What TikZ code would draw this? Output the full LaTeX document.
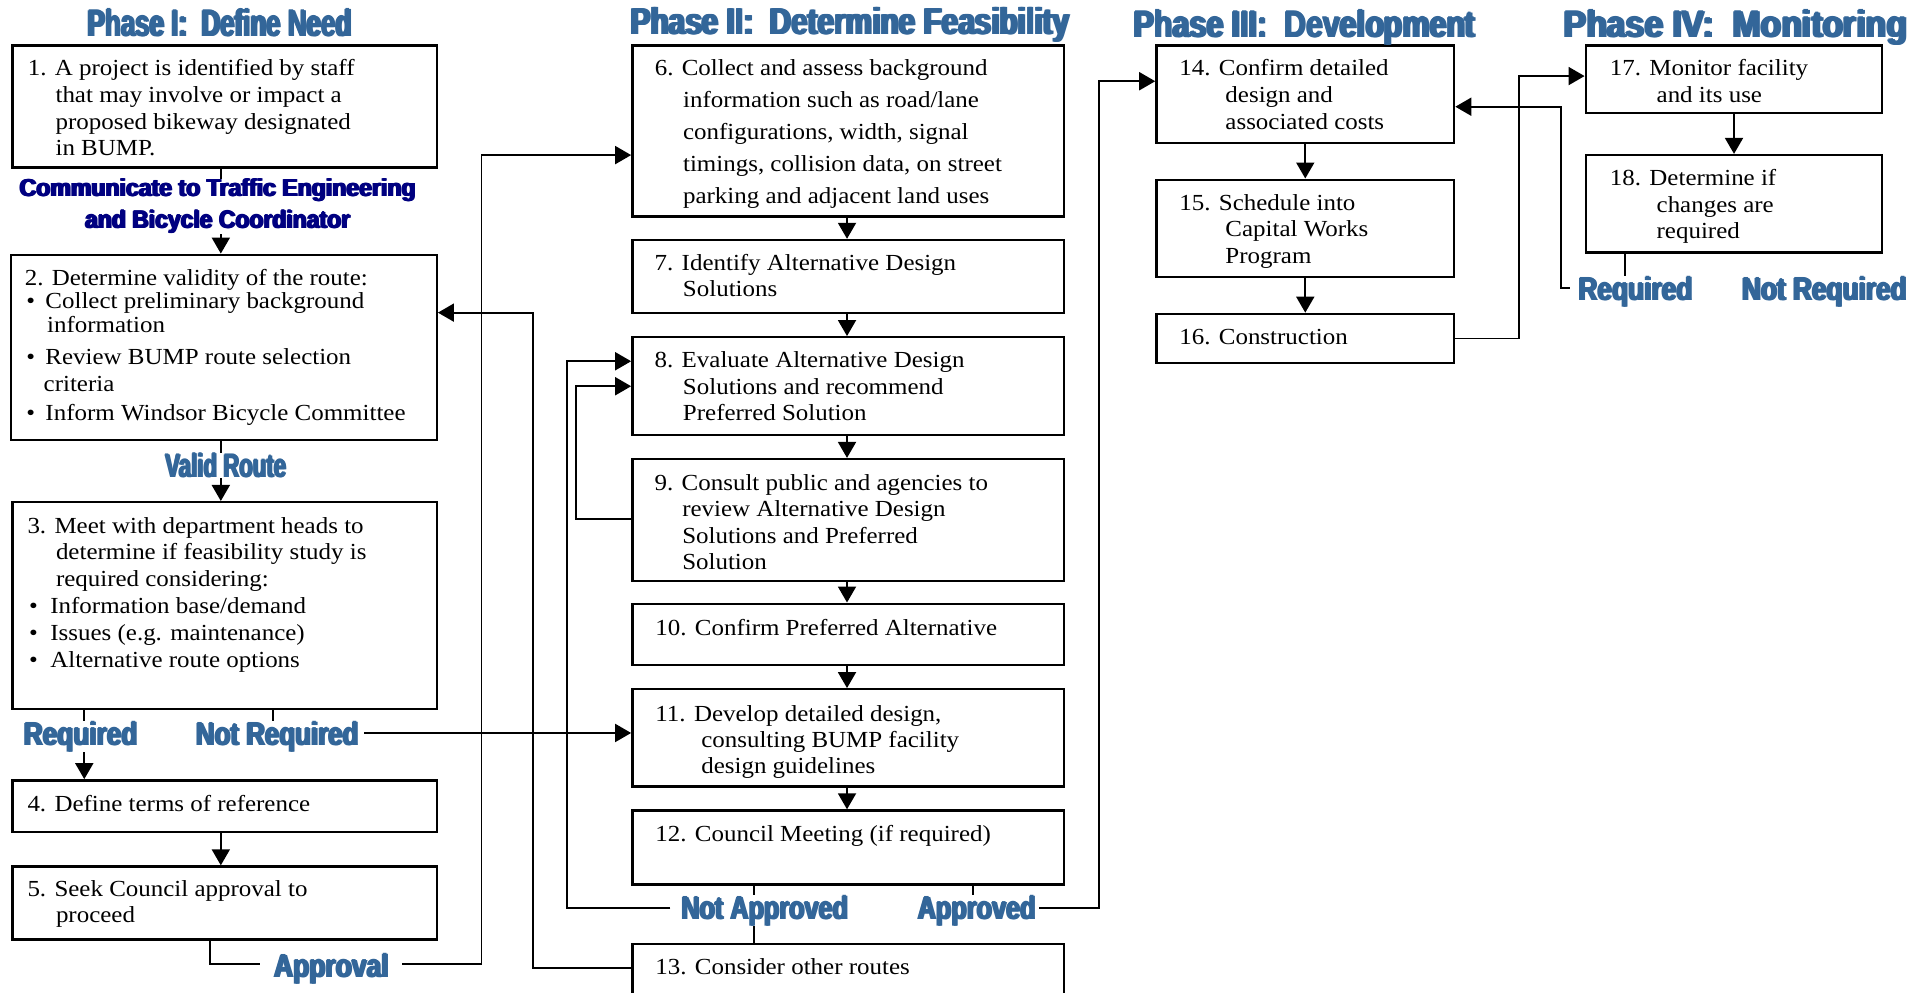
\documentclass[tikz,border=0pt]{standalone}
\usepackage{fontspec}
\usepackage{graphicx}
\setmainfont{Liberation Serif}[FakeStretch=1.085]
\newfontfamily\impact{Liberation Sans Bold}
\usetikzlibrary{arrows.meta,fit}
\definecolor{phase}{HTML}{336699}
\definecolor{navy}{HTML}{000080}
\newcommand{\hv}[1]{\rlap{#1}\kern.03em\rlap{\raisebox{.025em}{#1}}\kern.03em\rlap{#1}\kern.03em #1}
\newcommand{\imp}[3]{\resizebox{#1pt}{#2pt}{\impact\hv{#3}}}
\newcommand{\ind}[1]{\hspace*{#1pt}}
\newcommand{\bul}[2]{\rlap{\hspace*{#1pt}\textbullet}\hspace*{#2pt}}
\newcommand{\st}{\rule{0pt}{17pt}}
\tikzset{
  box/.style={draw, line width=2.4pt, inner sep=0pt},
  ln/.style={line width=1.9pt},
  arr/.style={line width=1.9pt, -{Triangle[length=16pt,width=18pt]}},
  txt/.style={anchor=north west, yshift=17pt, inner sep=0pt, align=left,
              font=\fontsize{23pt}{#1pt}\selectfont},
  lbl/.style={anchor=base west, inner sep=0pt, fill=white, text=phase},
  ttl/.style={anchor=base west, inner sep=0pt, text=phase},
}
\begin{document}
\begin{tikzpicture}[x=1.2302pt, y=-1.2308pt]
\useasboundingbox (0,0) rectangle (1568,806);
\fill[white] (0,0) rectangle (1568,806);

% ---------- boxes ----------
\node[box, fit={(10,37) (355,136)}] (b1) {};
\node[box, fit={(9,207) (355,357.5)}] (b2) {};
\node[box, fit={(10,408) (355,576)}] (b3) {};
\node[box, fit={(10,634) (355,676)}] (b4) {};
\node[box, fit={(10,704) (355,763.4)}] (b5) {};
\node[box, fit={(514,37) (865,176)}] (b6) {};
\node[box, fit={(514,195) (865,254.5)}] (b7) {};
\node[box, fit={(514,274) (865,353.5)}] (b8) {};
\node[box, fit={(514,373) (865,472)}] (b9) {};
\node[box, fit={(514,490.5) (865,540.5)}] (b10) {};
\node[box, fit={(514,560) (865,639)}] (b11) {};
\node[box, fit={(514,658.5) (865,718.5)}] (b12) {};
\node[box, fit={(514,767) (865,830)}] (b13) {};
\node[box, fit={(940,37) (1182,116)}] (b14) {};
\node[box, fit={(940,146) (1182,225)}] (b15) {};
\node[box, fit={(940,255) (1182,295)}] (b16) {};
\node[box, fit={(1289,37) (1530,92)}] (b17) {};
\node[box, fit={(1289,126) (1530,205)}] (b18) {};

% ---------- connectors ----------
\coordinate (xa) at (179.5,0);
\draw[arr] (b1.south -| xa) -- (b2.north -| xa);
\draw[arr] (b2.south -| xa) -- (b3.north -| xa);
\draw[arr] (b4.south -| xa) -- (b5.north -| xa);
\coordinate (xr) at (68.5,0);
\draw[arr] (b3.south -| xr) -- (b4.north -| xr);
\coordinate (nrt) at (221.7,597);
\draw[ln] (b3.south -| nrt) -- (nrt);
\coordinate (nrR) at (296.1,595.5);
\draw[arr] (nrR) -- (b11.west |- nrR);

\coordinate (x5) at (171,0);
\coordinate (apL) at (211.4,783.5);
\coordinate (apR) at (327,783.5);
\coordinate (ap6) at (391.4,126);
\draw[ln] (b5.south -| x5) |- (apL);
\draw[arr] (apR) -| (ap6) -- (b6.west |- ap6);

\coordinate (r13) at (0,786.6);
\coordinate (r2) at (433.4,254);
\draw[arr] (b13.west |- r13) -| (r2) -- (b2.east |- r2);

\coordinate (r9) at (0,422);
\coordinate (r8a) at (468,313.8);
\draw[arr] (b9.west |- r9) -| (r8a) -- (b8.west |- r8a);

\coordinate (x613) at (613.2,0);
\draw[ln] (b12.south -| x613) -- (b13.north -| x613);
\coordinate (naL) at (545,737.5);
\coordinate (r8b) at (460.6,293.5);
\draw[arr] (naL) -| (r8b) -- (b8.west |- r8b);

\coordinate (apt) at (791.2,740);
\draw[ln] (b12.south -| apt) -- (apt);
\coordinate (apdR) at (844.6,737.5);
\coordinate (r14) at (893.4,66);
\draw[arr] (apdR) -| (r14) -- (b14.west |- r14);

\coordinate (xb) at (688.5,0);
\draw[arr] (b6.south -| xb) -- (b7.north -| xb);
\draw[arr] (b7.south -| xb) -- (b8.north -| xb);
\draw[arr] (b8.south -| xb) -- (b9.north -| xb);
\draw[arr] (b9.south -| xb) -- (b10.north -| xb);
\draw[arr] (b10.south -| xb) -- (b11.north -| xb);
\draw[arr] (b11.south -| xb) -- (b12.north -| xb);

\draw[arr] (b14.south) -- (b15.north);
\draw[arr] (b15.south) -- (b16.north);
\coordinate (r17) at (1235,61.8);
\draw[arr] (b16.east) -| (r17) -- (b17.west |- r17);
\draw[arr] (b17.south) -- (b18.north);
\coordinate (rqt) at (1320.6,235);
\draw[ln] (b18.south -| rqt) -- (rqt);
\coordinate (rqL) at (1276,234);
\coordinate (r14b) at (1268.6,86.7);
\draw[arr] (rqL) -| (r14b) -- (b14.east |- r14b);

% ---------- labels ----------
\node[anchor=north, inner sep=0pt, fill=white, align=center, text=navy,
      font=\fontsize{20pt}{31.6pt}\selectfont] (lcom) at (177,144.9)
  {\imp{398}{18.4}{Communicate to Traffic Engineering}\\\imp{267}{18.4}{and Bicycle Coordinator}};
\node[lbl] (lvr) at (133.4,388) {\imp{123}{24.6}{Valid Route}};
\node[lbl] (lrq1) at (18.3,605.6) {\imp{116}{24}{Required}};
\node[lbl] (lnr1) at (158.2,605.6) {\imp{165}{24}{Not Required}};
\node[lbl] (lapv) at (221.7,793.9) {\imp{117}{24}{Approval}};
\node[lbl] (lnap) at (552.8,747) {\imp{169}{24}{Not Approved}};
\node[lbl] (lapd) at (745,747) {\imp{120}{24}{Approved}};
\node[lbl] (lrq4) at (1282,244) {\imp{116.4}{24}{Required}};
\node[lbl] (lnr4) at (1415,244) {\imp{167}{24}{Not Required}};

% ---------- titles ----------
\node[ttl] (h1) at (70.5,30) {\imp{266}{28}{Phase I:\ \ Define Need}};
\node[ttl] (h2) at (511.8,28.4) {\imp{441}{28}{Phase II:\ \ Determine Feasibility}};
\node[ttl] (h3) at (920.6,30.5) {\imp{344}{28}{Phase III:\ \ Development}};
\node[ttl] (h4) at (1270,30.5) {\imp{346}{28}{Phase IV:\ \ Monitoring}};

% ---------- box texts ----------
\node[txt=26.7] (t1) at (22.5,61.4) {\st 1. A project is identified by staff\\\ind{27.7}that may involve or impact a\\\ind{27.7}proposed bikeway designated\\\ind{27.7}in BUMP.};
\node[txt=23.4] (t2) at (20,231.7) {\st 2. Determine validity of the route:\\
  \bul{1.6}{20.7}Collect preliminary background\\
  \ind{22.4}information\\[9pt]
  \bul{1.6}{20.7}Review BUMP route selection\\[3.7pt]
  \ind{18.9}criteria\\[5.6pt]
  \bul{1.6}{20.7}Inform Windsor Bicycle Committee};
\node[txt=26.8] (t3) at (22.2,432.9) {\st 3. Meet with department heads to\\\ind{28.5}determine if feasibility study is\\\ind{28.5}required considering:\\
  \bul{1.5}{22.9}Information base/demand\\
  \bul{1.5}{22.9}Issues (e.g. maintenance)\\
  \bul{1.5}{22.9}Alternative route options};
\node[txt=26] (t4) at (22.2,659.3) {\st 4. Define terms of reference};
\node[txt=26.4] (t5) at (22.2,728) {\st 5. Seek Council approval to\\\ind{28.5}proceed};
\node[txt=32.05] (t6) at (532.1,61.4) {\st 6. Collect and assess background\\\ind{28.3}information such as road/lane\\\ind{28.3}configurations, width, signal\\\ind{28.3}timings, collision data, on street\\\ind{28.3}parking and adjacent land uses};
\node[txt=26] (t7) at (532,219.5) {\st 7. Identify Alternative Design\\\ind{28.3}Solutions};
\node[txt=26.2] (t8) at (532,298.8) {\st 8. Evaluate Alternative Design\\\ind{28.3}Solutions and recommend\\\ind{28.3}Preferred Solution};
\node[txt=26.5] (t9) at (532,398.1) {\st 9. Consult public and agencies to\\\ind{27.6}review Alternative Design\\\ind{27.6}Solutions and Preferred\\\ind{27.6}Solution};
\node[txt=26] (t10) at (532.6,516) {\st 10. Confirm Preferred Alternative};
\node[txt=26.1] (t11) at (532.6,585.7) {\st 11. Develop detailed design,\\\ind{45.9}consulting BUMP facility\\\ind{45.9}design guidelines};
\node[txt=26] (t12) at (532.6,683.6) {\st 12. Council Meeting (if required)};
\node[txt=26] (t13) at (532.6,791.5) {\st 13. Consider other routes};
\node[txt=27] (t14) at (958.5,61.4) {\st 14. Confirm detailed\\\ind{46.1}design and\\\ind{46.1}associated costs};
\node[txt=26.2] (t15) at (958.5,171.1) {\st 15. Schedule into\\\ind{46.1}Capital Works\\\ind{46.1}Program};
\node[txt=26] (t16) at (958.5,280) {\st 16. Construction};
\node[txt=26.6] (t17) at (1308.5,61.4) {\st 17. Monitor facility\\\ind{46.7}and its use};
\node[txt=26.7] (t18) at (1308.5,150.5) {\st 18. Determine if\\\ind{46.7}changes are\\\ind{46.7}required};
\end{tikzpicture}
\end{document}
